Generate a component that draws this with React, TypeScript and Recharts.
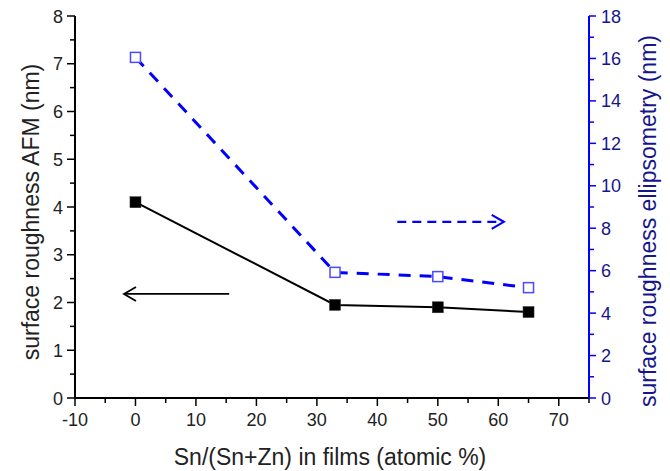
import { LineChart, Line, XAxis, YAxis, ReferenceLine } from 'recharts';

// Sn fraction in films vs. surface roughness, AFM (left) and ellipsometry (right)
const snFraction = [0, 33, 50, 65];
const afmRoughness = [4.1, 1.95, 1.9, 1.8];
const ellipsometryRoughness = [16.05, 5.92, 5.72, 5.2];

const xTicks = [-10, -5, 0, 5, 10, 15, 20, 25, 30, 35, 40, 45, 50, 55, 60, 65, 70, 75];
const leftTicks = [0, 0.5, 1, 1.5, 2, 2.5, 3, 3.5, 4, 4.5, 5, 5.5, 6, 6.5, 7, 7.5, 8];
const rightTicks = [0, 1, 2, 3, 4, 5, 6, 7, 8, 9, 10, 11, 12, 13, 14, 15, 16, 17, 18];

// arrows pointing at the axis each series belongs to: [fromX, toX, y]
const afmArrow = [15.5, -1.9, 2.18];
const ellArrow = [43.3, 60.9, 8.3];

const FONT = '"Liberation Sans", Arial, Helvetica, sans-serif';
const NAVY = '#16168c';
const BLUE = '#0000ff';
const TICK_FONT = 18;
const TITLE_FONT = 23;

const BottomTick = (props: any) => {
  const { x, y, payload } = props;
  const major = payload.value % 10 === 0;
  return (
    <g>
      <line x1={x} y1={y} x2={x} y2={y + (major ? 8 : 5)} stroke="#000" strokeWidth={1.5} />
      {major && (
        <text x={x} y={y + 28} textAnchor="middle" fontSize={TICK_FONT} fontFamily={FONT} fill="#222">
          {payload.value}
        </text>
      )}
    </g>
  );
};

const TopTick = (props: any) => {
  const { x, y, payload } = props;
  const major = payload.value % 10 === 0;
  return <line x1={x} y1={y} x2={x} y2={y + (major ? 8 : 5)} stroke="#000" strokeWidth={1.5} />;
};

const LeftTick = (props: any) => {
  const { x, y, payload } = props;
  const major = Number.isInteger(payload.value);
  return (
    <g>
      <line x1={x} y1={y} x2={x - (major ? 8 : 5)} y2={y} stroke="#000" strokeWidth={1.5} />
      {major && (
        <text x={x - 12} y={y + 6.5} textAnchor="end" fontSize={TICK_FONT} fontFamily={FONT} fill="#222">
          {payload.value}
        </text>
      )}
    </g>
  );
};

const RightTick = (props: any) => {
  const { x, y, payload } = props;
  const major = payload.value % 2 === 0;
  return (
    <g>
      <line x1={x} y1={y} x2={x + (major ? 7 : 5)} y2={y} stroke={BLUE} strokeWidth={1.5} />
      {major && (
        <text x={x + 12} y={y + 6.5} textAnchor="start" fontSize={TICK_FONT} fontFamily={FONT} fill={NAVY}>
          {payload.value}
        </text>
      )}
    </g>
  );
};

const makeArrow = (color: string, width: number, dash?: string) => (p: any) => {
  const { x1, y1, x2, y2 } = p;
  const dir = Math.sign(x2 - x1) || 1;
  const head = 12;
  const half = 7;
  return (
    <g>
      <line x1={x1} y1={y1} x2={x2} y2={y2} stroke={color} strokeWidth={width} strokeDasharray={dash} />
      <polyline
        points={`${x2 - dir * head},${y2 - half} ${x2},${y2} ${x2 - dir * head},${y2 + half}`}
        fill="none"
        stroke={color}
        strokeWidth={width}
      />
    </g>
  );
};

const filledSquare = (p: any) => (
  <rect key={`afm-${p.index}`} x={p.cx - 5.5} y={p.cy - 5.5} width={11} height={11} fill="#000" stroke="#333" strokeWidth={0.5} />
);

const openSquare = (p: any) => (
  <rect key={`ell-${p.index}`} x={p.cx - 5} y={p.cy - 5} width={10} height={10} fill="#fff" stroke="#4a4aff" strokeWidth={1.5} />
);

export default function App() {
  const data = snFraction.map((x, i) => ({ x, afm: afmRoughness[i], ell: ellipsometryRoughness[i] }));

  return (
    <div style={{ width: 670, height: 471, background: '#fff' }}>
      <style>{'body{margin:0}'}</style>
      <LineChart width={670} height={471} data={data} margin={{ top: 16, right: 0, bottom: 0, left: 0 }}>
        <XAxis
          dataKey="x"
          type="number"
          domain={[-10, 75]}
          ticks={xTicks}
          interval={0}
          height={73}
          tickSize={0}
          tickMargin={0}
          tickLine={false}
          axisLine={{ stroke: '#000', strokeWidth: 2 }}
          tick={<BottomTick />}
          label={{
            content: () => (
              <text x={330} y={465} textAnchor="middle" fontSize={TITLE_FONT} fontFamily={FONT} fill="#222">
                Sn/(Sn+Zn) in films (atomic %)
              </text>
            ),
          }}
        />
        <XAxis
          xAxisId="top"
          orientation="top"
          dataKey="x"
          type="number"
          domain={[-10, 75]}
          ticks={xTicks}
          interval={0}
          height={0}
          tickSize={0}
          tickMargin={0}
          tickLine={false}
          axisLine={{ stroke: '#000', strokeWidth: 2 }}
          tick={<TopTick />}
        />
        <YAxis
          yAxisId="left"
          type="number"
          domain={[0, 8]}
          ticks={leftTicks}
          interval={0}
          width={75}
          tickSize={0}
          tickMargin={0}
          tickLine={false}
          axisLine={{ stroke: '#000', strokeWidth: 2 }}
          tick={<LeftTick />}
          label={{
            content: () => (
              <text
                x={31}
                y={212}
                transform="rotate(-90 31 212)"
                textAnchor="middle"
                dominantBaseline="central"
                fontSize={TITLE_FONT}
                fontFamily={FONT}
                fill="#222"
              >
                surface roughness AFM (nm)
              </text>
            ),
          }}
        />
        <YAxis
          yAxisId="right"
          orientation="right"
          type="number"
          domain={[0, 18]}
          ticks={rightTicks}
          interval={0}
          width={81}
          tickSize={0}
          tickMargin={0}
          tickLine={false}
          axisLine={{ stroke: BLUE, strokeWidth: 2 }}
          tick={<RightTick />}
          label={{
            content: () => (
              <text
                x={648}
                y={221}
                transform="rotate(-90 648 221)"
                textAnchor="middle"
                dominantBaseline="central"
                fontSize={TITLE_FONT}
                fontFamily={FONT}
                fill={NAVY}
              >
                surface roughness ellipsometry (nm)
              </text>
            ),
          }}
        />
        <ReferenceLine
          yAxisId="left"
          segment={[
            { x: afmArrow[0], y: afmArrow[2] },
            { x: afmArrow[1], y: afmArrow[2] },
          ]}
          shape={makeArrow('#000', 1.8)}
        />
        <ReferenceLine
          yAxisId="right"
          segment={[
            { x: ellArrow[0], y: ellArrow[2] },
            { x: ellArrow[1], y: ellArrow[2] },
          ]}
          shape={makeArrow(BLUE, 2.2, '9 6')}
        />
        <Line
          yAxisId="left"
          dataKey="afm"
          type="linear"
          stroke="#000"
          strokeWidth={2}
          dot={filledSquare}
          activeDot={false}
          isAnimationActive={false}
        />
        <Line
          yAxisId="right"
          dataKey="ell"
          type="linear"
          stroke={BLUE}
          strokeWidth={3}
          strokeDasharray="12 9"
          dot={openSquare}
          activeDot={false}
          isAnimationActive={false}
        />
      </LineChart>
    </div>
  );
}
